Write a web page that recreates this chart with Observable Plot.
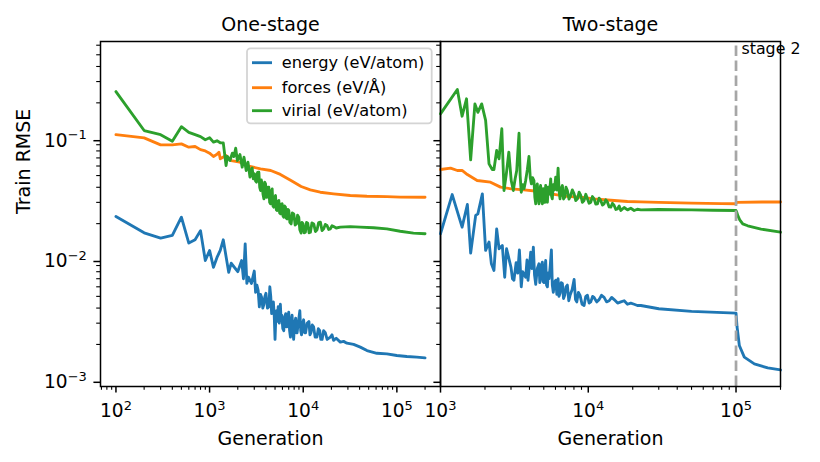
<!DOCTYPE html>
<html>
<head>
<meta charset="utf-8">
<script src="https://cdn.jsdelivr.net/npm/d3@7"></script>
<script src="https://cdn.jsdelivr.net/npm/@observablehq/plot@0.6"></script>
<style>
html, body { margin: 0; padding: 0; background: #ffffff; }
#wrap { position: relative; width: 820px; height: 462px; overflow: hidden; font-family: "DejaVu Sans"; }
#wrap > svg { position: absolute; top: 0; }
</style>
</head>
<body>
<div id="wrap"></div>
<script>
// ---------- data: One-stage ----------
const oneEnergyGen = [100,200,300,400,500,600,700,800,900,1000,1100,1200,1300,1400,1600,1700,2000,2200,2300,2400,2500,2600,2800,3000,3100,3200,3300,3400,3500,3600,3700,3800,3900,4000,4150,4300,4400,4500,4600,4700,4800,4900,5000,5100,5200,5300,5400,5550,5700,5800,5900,6050,6200,6350,6500,6600,6700,6850,7000,7150,7300,7450,7600,7750,7900,8100,8300,8450,8600,8900,9200,9400,9600,9850,10100,10350,10600,11000,11500,11800,12100,12500,12900,13400,14000,14500,15000,15400,15900,16500,17200,18000,19500,20300,21100,22500,24900,27000,29300,34500,40700,47900,61200,78200,99900,127700,163200,200000];
const oneEnergy    = [0.0229,0.0168,0.0152,0.0160,0.0226,0.0138,0.0147,0.0175,0.0099,0.0120,0.0087,0.0105,0.0120,0.0147,0.0079,0.0094,0.0080,0.0099,0.0070,0.0136,0.0064,0.0072,0.0064,0.0081,0.0054,0.0062,0.0056,0.0041,0.0052,0.0049,0.0040,0.0043,0.0050,0.0053,0.0040,0.0041,0.0060,0.0050,0.0036,0.0038,0.0045,0.0035,0.0022,0.0034,0.0038,0.0031,0.0041,0.0030,0.0043,0.0032,0.0035,0.0027,0.0026,0.0034,0.0036,0.0028,0.0028,0.0034,0.0037,0.0026,0.0023,0.0031,0.0035,0.0026,0.0022,0.0030,0.0033,0.0025,0.0025,0.0031,0.0038,0.0026,0.0024,0.0030,0.0032,0.0025,0.0025,0.0030,0.0031,0.0024,0.0025,0.0029,0.0028,0.0023,0.0023,0.0027,0.0026,0.0022,0.0022,0.0026,0.0025,0.0022,0.0023,0.0024,0.00216,0.00225,0.00209,0.00212,0.00205,0.00200,0.00190,0.00178,0.00169,0.00167,0.00162,0.00159,0.00157,0.00155];

const oneForcesGen = [100,200,300,400,500,600,700,800,900,1000,1100,1200,1260,1300,1500,1700,2100,2700,3500,4500,5700,7400,9500,11900,15200,21100,31800,47900,78200,108400,200000];
const oneForces    = [0.109,0.1026,0.0898,0.0898,0.0915,0.0859,0.0870,0.0820,0.0800,0.0766,0.0719,0.0750,0.0781,0.0688,0.0733,0.0666,0.0645,0.0595,0.0569,0.0551,0.0511,0.0455,0.0406,0.0381,0.0364,0.0353,0.0342,0.0337,0.0335,0.0332,0.0331];

const oneVirialGen = [100,200,300,400,500,600,700,800,900,1000,1100,1200,1300,1400,1500,1550,1650,1750,1820,1900,1980,2110,2230,2330,2460,2570,2700,2780,2850,2930,3020,3100,3170,3250,3360,3430,3500,3570,3650,3720,3800,3880,3960,4040,4120,4200,4290,4380,4470,4560,4660,4750,4850,4950,5060,5160,5270,5380,5490,5600,5720,5830,5950,6070,6200,6330,6460,6600,6730,6870,7010,7200,7430,7650,7930,8200,8470,8700,8960,9200,9490,9700,9970,10250,10550,10850,11180,11550,11930,12400,12950,13500,14050,14600,15250,15900,16540,17200,17950,18700,19480,20300,21130,22500,24900,31800,40700,56400,78200,108400,150400,200000];
const oneVirial    = [0.248,0.118,0.109,0.0962,0.127,0.114,0.109,0.105,0.0989,0.1027,0.0945,0.0970,0.0934,0.0933,0.0606,0.0719,0.0666,0.0766,0.0719,0.0843,0.0666,0.0747,0.0587,0.0710,0.0551,0.0645,0.0485,0.0560,0.0579,0.0470,0.0517,0.0450,0.0441,0.0530,0.0533,0.0400,0.0376,0.0460,0.0414,0.0350,0.0321,0.0440,0.0427,0.0330,0.0331,0.0400,0.0401,0.0300,0.0292,0.0370,0.0388,0.0280,0.0274,0.0330,0.0342,0.0260,0.0257,0.0305,0.0311,0.0245,0.0241,0.0290,0.0292,0.0232,0.0226,0.0280,0.0274,0.0222,0.0219,0.0262,0.0257,0.0205,0.0199,0.0245,0.0241,0.0195,0.0199,0.0235,0.0226,0.0178,0.0167,0.0205,0.0199,0.0168,0.0170,0.0205,0.0202,0.0168,0.0170,0.0203,0.0199,0.0172,0.0178,0.0204,0.0206,0.0175,0.0181,0.0197,0.0193,0.0179,0.0181,0.0192,0.0189,0.0184,0.0187,0.0189,0.0187,0.0185,0.0181,0.0173,0.0167,0.0165];

// ---------- data: Two-stage ----------
const twoEnergyGen = [1000,1200,1400,1520,1600,1730,1790,1920,2020,2130,2210,2300,2400,2490,2620,2720,2800,3000,3070,3140,3250,3330,3420,3520,3600,3700,3770,3850,3910,4000,4080,4160,4250,4330,4410,4520,4640,4700,4760,4830,4890,4950,5020,5090,5150,5220,5290,5360,5430,5530,5630,5710,5800,5910,6020,6130,6250,6340,6440,6560,6680,6800,6930,7070,7220,7380,7530,7780,8020,8200,8360,8580,8800,9080,9370,9620,9870,10130,10400,10700,10950,11400,11840,12300,12800,13300,13850,14400,14970,15800,16610,17500,18430,19400,20450,21500,22700,30000,50000,100000,101600,105300,113800,133000,164000,200000];
const twoEnergy    = [0.0165,0.0348,0.0187,0.0288,0.0114,0.0234,0.0241,0.0353,0.0120,0.0141,0.0093,0.0082,0.0181,0.0124,0.0132,0.0072,0.0124,0.0087,0.0070,0.0068,0.0095,0.0078,0.0121,0.0060,0.0080,0.0075,0.0072,0.0100,0.0068,0.0090,0.0116,0.0085,0.0128,0.0075,0.0063,0.0085,0.0093,0.0065,0.0072,0.0090,0.0096,0.0066,0.0065,0.0085,0.0099,0.0062,0.0060,0.0078,0.0070,0.0090,0.0121,0.0062,0.0054,0.0066,0.0068,0.0052,0.0070,0.0050,0.0053,0.0065,0.0064,0.0048,0.0051,0.0060,0.0062,0.0046,0.0051,0.0057,0.0069,0.0047,0.0045,0.0054,0.0051,0.0043,0.0042,0.0050,0.0051,0.0044,0.0045,0.0050,0.0049,0.0045,0.0047,0.0051,0.0049,0.0045,0.0046,0.0049,0.0047,0.0044,0.0045,0.0046,0.0043,0.0044,0.0043,0.0042,0.0042,0.00395,0.00376,0.00363,0.0028,0.00196,0.00157,0.00138,0.00128,0.00123];

const twoForcesGen = [1000,1170,1300,1400,1520,1770,2180,2550,3010,3670,4520,5570,7220,8900,10950,13490,18430,22700,30000,50000,80000,100000,101000,150000,200000];
const twoForces    = [0.0561,0.0576,0.0551,0.0551,0.0510,0.0455,0.0441,0.0401,0.0388,0.0381,0.0371,0.0353,0.0336,0.0331,0.0321,0.0314,0.0305,0.0303,0.0300,0.0296,0.0293,0.0292,0.0300,0.0302,0.0302];

const twoVirialGen = [1000,1300,1400,1500,1600,1710,1790,1900,2020,2130,2240,2300,2400,2490,2600,2690,2790,2900,3010,3110,3200,3280,3340,3400,3460,3520,3600,3680,3770,3870,3970,4050,4120,4200,4290,4350,4410,4460,4520,4580,4640,4700,4760,4820,4890,4960,5020,5080,5150,5220,5290,5360,5430,5500,5570,5640,5710,5800,5900,6020,6130,6250,6340,6440,6560,6680,6800,6930,7070,7220,7400,7610,7800,8020,8230,8450,8670,8900,9130,9370,9620,9870,10130,10400,10670,10950,11240,11540,11840,12150,12470,12800,13140,13490,13850,14210,14580,14970,15370,15770,16190,16610,17500,18430,19400,20450,21500,22700,30000,50000,70000,100000,101000,103000,106000,111000,120000,147700,200000];
const twoVirial    = [0.162,0.258,0.155,0.216,0.0675,0.196,0.167,0.196,0.143,0.0625,0.0561,0.0561,0.0806,0.0688,0.122,0.0376,0.0517,0.0781,0.0455,0.0376,0.0470,0.0551,0.0800,0.112,0.0500,0.0364,0.0420,0.0390,0.0455,0.0560,0.0719,0.0480,0.0427,0.0480,0.0455,0.0330,0.0292,0.0400,0.0427,0.0330,0.0292,0.0380,0.0414,0.0320,0.0292,0.0390,0.0360,0.0300,0.0414,0.0340,0.0301,0.0400,0.0350,0.0390,0.0470,0.0340,0.0321,0.0420,0.0380,0.0485,0.0380,0.0576,0.0380,0.0321,0.0390,0.0414,0.0320,0.0331,0.0400,0.0376,0.0320,0.0342,0.0380,0.0353,0.0310,0.0321,0.0365,0.0342,0.0300,0.0311,0.0350,0.0321,0.0295,0.0301,0.0335,0.0321,0.0290,0.0292,0.0325,0.0311,0.0285,0.0292,0.0315,0.0301,0.0275,0.0274,0.0295,0.0283,0.0262,0.0265,0.0280,0.0257,0.0272,0.0260,0.0268,0.0257,0.0263,0.0260,0.0262,0.0260,0.0258,0.0257,0.0250,0.0232,0.0215,0.0199,0.0192,0.0180,0.0170];

// ---------- labels, ticks, domains ----------
const seriesNames  = ["energy (eV/atom)", "forces (eV/Å)", "virial (eV/atom)"];
const seriesColors = ["#1f77b4", "#ff7f0e", "#2ca02c"];
const panelTitles  = ["One-stage", "Two-stage"];
const xLabel = "Generation";
const yLabel = "Train RMSE";
const stageLabel = "stage 2";
const stageGen = 100000;

const oneXDomain = [68.4, 292400];
const twoXDomain = [1000, 200000];
const yDomain = [0.000897, 0.644];

const oneXMajor = [100, 1000, 10000, 100000];
const oneXMinor = [70,80,90,200,300,400,500,600,700,800,900,2000,3000,4000,5000,6000,7000,8000,9000,20000,30000,40000,50000,60000,70000,80000,90000,200000];
const twoXMajor = [1000, 10000, 100000];
const twoXMinor = [2000,3000,4000,5000,6000,7000,8000,9000,20000,30000,40000,50000,60000,70000,80000,90000,200000];
const yMajor = [0.001, 0.01, 0.1];
const yMinor = [0.002,0.003,0.004,0.005,0.006,0.007,0.008,0.009,0.02,0.03,0.04,0.05,0.06,0.07,0.08,0.09,0.2,0.3,0.4,0.5,0.6];

// ---------- helpers ----------
const table = (gens, vals) => gens.map((g, i) => ({gen: g, rmse: vals[i]}));
const powFmt = d => {
  const e = Math.round(Math.log10(d));
  return "10^" + (e < 0 ? "\u2212" + (-e) : String(e));
};
const LW = 2.85;
const FS = 19;
const TFS = 18.6;

function axesMarks(xMajor, xMinor, showY) {
  return [
    Plot.axisX({ticks: xMinor, anchor: "bottom", tickSize: 3.8, strokeWidth: 1.1, stroke: "black", tickFormat: () => "", label: null}),
    Plot.axisX({ticks: xMajor, anchor: "bottom", tickSize: 6.6, strokeWidth: 1.5, stroke: "black", tickPadding: 11, tickFormat: powFmt, fontSize: TFS, fill: "black", label: null}),
    Plot.axisY({ticks: yMinor, anchor: "left", tickSize: 3.8, strokeWidth: 1.1, stroke: "black", tickFormat: () => "", label: null}),
    Plot.axisY({ticks: yMajor, anchor: "left", tickSize: 6.6, strokeWidth: 1.5, stroke: "black", tickPadding: 7, dy: 1.5, tickFormat: showY ? powFmt : () => "", fontSize: TFS, fill: "black", label: null})
  ];
}
function lineMarks(sets) {
  return sets.map((s, i) => Plot.line(table(s[0], s[1]), {x: "gen", y: "rmse", stroke: seriesColors[i], strokeWidth: LW}));
}
function supify(svg) {
  d3.select(svg).selectAll("text").each(function () {
    if (this.querySelector("tspan")) return;
    const m = /^10\^(.+)$/.exec(this.textContent);
    if (!m) return;
    const t = d3.select(this);
    t.text(null);
    t.append("tspan").text("10");
    t.append("tspan").attr("font-size", "0.7em").attr("dy", "-0.57em").text(m[1]);
  });
}
const baseStyle = {fontFamily: "DejaVu Sans", fontSize: FS + "px", background: "transparent", overflow: "visible", color: "black"};

// ---------- left panel ----------
const left = Plot.plot({
  width: 440, height: 462,
  marginLeft: 100, marginRight: 0, marginTop: 41, marginBottom: 76,
  style: baseStyle,
  x: {type: "log", domain: oneXDomain, label: null},
  y: {type: "log", domain: yDomain, label: null},
  marks: [
    ...axesMarks(oneXMajor, oneXMinor, true),
    ...lineMarks([[oneEnergyGen, oneEnergy], [oneForcesGen, oneForces], [oneVirialGen, oneVirial]]),
    Plot.frame({stroke: "black", strokeWidth: 1.5}),
    Plot.text([panelTitles[0]], {frameAnchor: "top", lineAnchor: "bottom", dy: -11, fontSize: FS, fill: "black"}),
    Plot.text([xLabel], {frameAnchor: "bottom", lineAnchor: "bottom", dy: 58, fontSize: FS, fill: "black"}),
    Plot.text([yLabel], {frameAnchor: "left", lineAnchor: "bottom", rotate: -90, dx: -71, fontSize: FS, fill: "black"})
  ]
});
supify(left);
left.style.left = "0px";

// ---------- right panel ----------
const right = Plot.plot({
  width: 420, height: 462,
  marginLeft: 40, marginRight: 40, marginTop: 41, marginBottom: 76,
  style: baseStyle,
  x: {type: "log", domain: twoXDomain, label: null},
  y: {type: "log", domain: yDomain, label: null},
  marks: [
    ...axesMarks(twoXMajor, twoXMinor, false),
    ...lineMarks([[twoEnergyGen, twoEnergy], [twoForcesGen, twoForces], [twoVirialGen, twoVirial]]),
    Plot.ruleX([stageGen], {y1: yDomain[0], y2: yDomain[1], stroke: "#a6a6a6", strokeWidth: 2.7, strokeDasharray: "10.5,4.5"}),
    Plot.frame({stroke: "black", strokeWidth: 1.5}),
    Plot.text([stageGen], {x: d => d, text: () => stageLabel, frameAnchor: "top", textAnchor: "start", lineAnchor: "bottom", dx: 5.5, dy: 12.3, fontSize: 15.8, fill: "black"}),
    Plot.text([panelTitles[1]], {frameAnchor: "top", lineAnchor: "bottom", dy: -11, fontSize: FS, fill: "black"}),
    Plot.text([xLabel], {frameAnchor: "bottom", lineAnchor: "bottom", dy: 58, fontSize: FS, fill: "black"})
  ]
});
supify(right);
right.style.left = "400px";

const wrap = document.getElementById("wrap");
wrap.appendChild(left);
wrap.appendChild(right);

// ---------- legend (inside the left panel) ----------
const leg = d3.select(wrap).append("svg")
  .attr("width", 820).attr("height", 462)
  .style("left", "0px").style("pointer-events", "none");
leg.append("rect")
  .attr("x", 247).attr("y", 48.3).attr("width", 184.7).attr("height", 75)
  .attr("rx", 3.5).attr("fill", "white").attr("fill-opacity", 0.8)
  .attr("stroke", "#d4d4d4").attr("stroke-width", 1.8);
const rowY = [62.7, 87.7, 110.7];
const rowBase = [67.6, 92.7, 115.6];
seriesNames.forEach((name, i) => {
  leg.append("line").attr("x1", 252).attr("x2", 272).attr("y1", rowY[i]).attr("y2", rowY[i])
    .attr("stroke", seriesColors[i]).attr("stroke-width", LW);
  leg.append("text").attr("x", 281.7).attr("y", rowBase[i])
    .attr("font-family", "DejaVu Sans").attr("font-size", 16.2).attr("fill", "black").text(name);
});
</script>
</body>
</html>
